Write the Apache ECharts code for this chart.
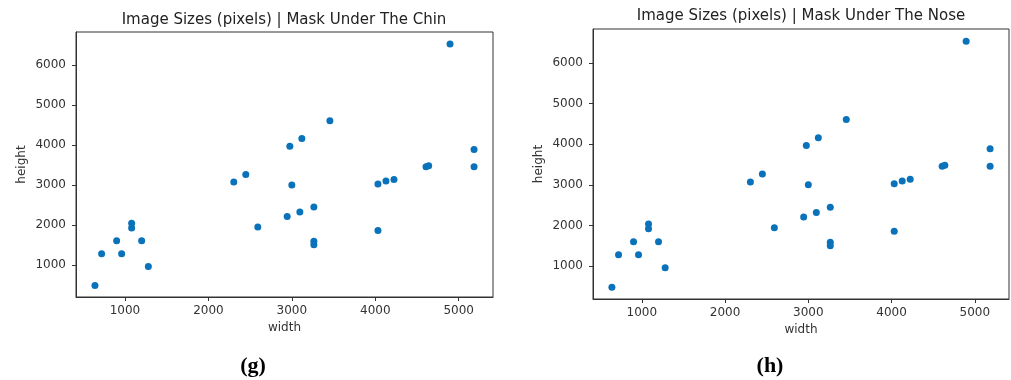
<!DOCTYPE html>
<html>
<head>
<meta charset="utf-8">
<script src="https://cdn.jsdelivr.net/npm/echarts@6/dist/echarts.min.js"></script>
<style>
html,body{margin:0;padding:0;background:#fff;}
#c{width:1011px;height:380px;}
</style>
</head>
<body>
<div id="c"></div>
<script>
// Data
var chinWidth  = [640, 720, 900, 960, 1080, 1080, 1200, 1280, 2304, 2448, 2592, 2944, 2976, 3000, 3096, 3120, 3264, 3264, 3264, 3456, 4032, 4032, 4128, 4224, 4608, 4640, 4896, 5184, 5184];
var chinHeight = [480, 1280, 1600, 1280, 2040, 1920, 1600, 960, 3072, 3264, 1944, 2208, 3968, 3000, 2322, 4160, 2448, 1590, 1500, 4608, 3024, 1860, 3096, 3136, 3456, 3480, 6528, 3888, 3456];
var noseWidth  = [640, 720, 900, 960, 1080, 1080, 1200, 1280, 2304, 2448, 2592, 2944, 2976, 3000, 3096, 3120, 3264, 3264, 3264, 3456, 4032, 4032, 4128, 4224, 4608, 4640, 4896, 5184, 5184];
var noseHeight = [480, 1280, 1600, 1280, 2040, 1920, 1600, 960, 3072, 3264, 1944, 2208, 3968, 3000, 2322, 4160, 2448, 1590, 1500, 4608, 3024, 1860, 3096, 3136, 3456, 3480, 6528, 3888, 3456];
var xTicks = [1000, 2000, 3000, 4000, 5000];
var yTicks = [1000, 2000, 3000, 4000, 5000, 6000];
var titles = ['Image Sizes (pixels) | Mask Under The Chin', 'Image Sizes (pixels) | Mask Under The Nose'];
var captions = ['(g)', '(h)'];
var xName = 'width', yName = 'height';

function pairs(xs, ys){ return xs.map(function(x,i){ return [x, ys[i]]; }); }
function plain(v){ return String(v); }

var ink = '#333';
var font = 'DejaVu Sans';
function xAxis(idx){
  return {
    type:'value', gridIndex: idx, min: 413, max: 5411,
    name: xName, nameLocation:'middle', nameGap: 25,
    nameTextStyle:{color: ink, fontSize: 12, fontFamily: font},
    axisLine:{show:true, onZero:false, lineStyle:{color: ink, width:1}},
    axisTick:{show:true, length:4, lineStyle:{color: ink}, customValues: xTicks},
    axisLabel:{color: ink, fontSize: 12, fontFamily: font, margin: 8, customValues: xTicks, formatter: plain},
    splitLine:{show:false}
  };
}
function yAxis(idx){
  return {
    type:'value', gridIndex: idx, min: 194, max: 6830,
    name: yName, nameLocation:'middle', nameGap: 48, nameRotate: 90,
    nameTextStyle:{color: ink, fontSize: 12, fontFamily: font},
    axisLine:{show:true, onZero:false, lineStyle:{color: ink, width:1}},
    axisTick:{show:true, length:4, lineStyle:{color: ink}, customValues: yTicks},
    axisLabel:{color: ink, fontSize: 12, fontFamily: font, margin: 10, customValues: yTicks, formatter: plain},
    splitLine:{show:false}
  };
}

var chart = echarts.init(document.getElementById('c'), null, {renderer:'canvas'});
chart.setOption({
  animation:false,
  backgroundColor:'#fff',
  grid:[
    {left:76, top:32, width:417, height:265, show:true, borderColor: ink, borderWidth:1, backgroundColor:'transparent'},
    {left:593, top:29, width:416, height:270, show:true, borderColor: ink, borderWidth:1, backgroundColor:'transparent'}
  ],
  xAxis:[xAxis(0), xAxis(1)],
  yAxis:[yAxis(0), yAxis(1)],
  series:[
    {type:'scatter', xAxisIndex:0, yAxisIndex:0, data: pairs(chinWidth, chinHeight), symbolSize:7, itemStyle:{color:'#0a72ba', opacity:1}},
    {type:'scatter', xAxisIndex:1, yAxisIndex:1, data: pairs(noseWidth, noseHeight), symbolSize:7, itemStyle:{color:'#0a72ba', opacity:1}}
  ],
  graphic:[
    {type:'text', x:284, y:20, style:{text: titles[0], align:'center', verticalAlign:'middle', fill:'#222', font:'15px "DejaVu Sans"'}},
    {type:'text', x:801, y:16, style:{text: titles[1], align:'center', verticalAlign:'middle', fill:'#222', font:'15px "DejaVu Sans"'}},
    {type:'text', x:253, y:366, style:{text: captions[0], align:'center', verticalAlign:'middle', fill:'#000', font:'bold 22px "Liberation Serif"'}},
    {type:'text', x:770, y:366, style:{text: captions[1], align:'center', verticalAlign:'middle', fill:'#000', font:'bold 22px "Liberation Serif"'}}
  ]
});
</script>
</body>
</html>
